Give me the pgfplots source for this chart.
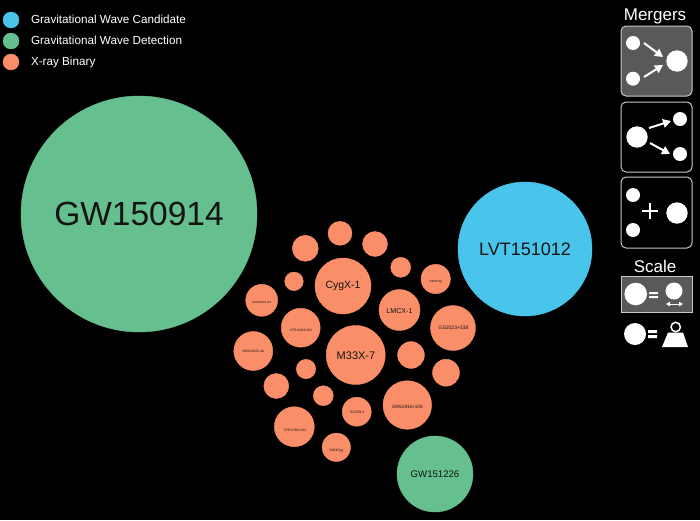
\documentclass[border=0pt]{standalone}
\usepackage{pgfplots}
\pgfplotsset{compat=1.18}
\usepackage{pgfplotstable}
\usepackage{fontspec}
\setmainfont{Liberation Sans}
\usetikzlibrary{arrows.meta}
\definecolor{gwc}{HTML}{49C5EC}
\definecolor{gwd}{HTML}{66BF8E}
\definecolor{xrb}{HTML}{F98E69}
\definecolor{pan}{HTML}{595959}
\definecolor{edge}{HTML}{C8C8C8}
\pgfplotstableread{
x y r
525 249 67
}\candidate
\pgfplotstableread{
x y r
139 214 118
435 474 38
}\detection
\pgfplotstableread{
x y r
343 286 28
399.5 310 20.5
355.7 355 29.5
453 328 22.5
435.7 279 14.7
400.7 267.3 10
411 355 13.4
446 372.7 13.5
407.3 405 24.3
356.7 411.7 14.5
336.3 447.3 14.2
294.3 426.7 20
323.3 395.7 10
276.3 386 12.5
306 369 9.7
253.3 351 19.5
300.7 327.7 19.5
261.7 300.3 16
294 281.3 9.3
305.3 248.3 13
340 233.3 12
375 244 12.5
}\xray
\pgfplotsset{bub/.style={only marks,scatter,mark=*,
  scatter src=explicit,
  scatter/use mapped color={draw=#1,fill=#1},
  visualization depends on={\thisrow{r} \as \bubrad},
  scatter/@pre marker code/.append style={/tikz/mark size=\bubrad pt},
  draw=#1,fill=#1,mark options={draw=#1,fill=#1}}}
\begin{document}
\begin{tikzpicture}
\begin{axis}[width=700pt,height=520pt,scale only axis,
  xmin=0,xmax=700,ymin=0,ymax=520,y dir=reverse,hide axis,clip=false,
  clip marker paths=true,
  legend cell align=left,
  legend image post style={mark size=8pt},
  legend style={at={(axis cs:3,12)},anchor=north west,draw=none,fill=none,
    text=white,font=\fontsize{11.7}{13}\selectfont,row sep=5pt,
    inner sep=0pt,outer sep=0pt,
    nodes={inner xsep=2pt,inner ysep=0pt}}]
\fill[black] (axis cs:0,0) rectangle (axis cs:700,520);
\addplot[bub=gwc] table[x=x,y=y,meta=r] {\candidate};
\addlegendentry{\hspace{10pt}\raisebox{0.6pt}{Gravitational Wave Candidate}}
\addplot[bub=gwd] table[x=x,y=y,meta=r] {\detection};
\addlegendentry{\hspace{10pt}\raisebox{0.6pt}{Gravitational Wave Detection}}
\addplot[bub=xrb] table[x=x,y=y,meta=r] {\xray};
\addlegendentry{\hspace{10pt}\raisebox{0.6pt}{X-ray Binary}}
\tikzset{lab/.style={text=black!92,inner sep=0pt}}
\node[lab,font=\fontsize{33.5}{34}\selectfont] at (axis cs:139,214) {GW150914};
\node[lab,font=\fontsize{18}{20}\selectfont] at (axis cs:525,249) {LVT151012};
\node[lab,font=\fontsize{9.6}{12}\selectfont] at (axis cs:435,474) {GW151226};
\node[lab,font=\fontsize{10.5}{12}\selectfont] at (axis cs:343,286) {CygX-1};
\node[lab,font=\fontsize{7.1}{9}\selectfont] at (axis cs:399.5,311) {LMCX-1};
\node[lab,font=\fontsize{11}{13}\selectfont] at (axis cs:356,356) {M33X-7};
\node[lab,font=\fontsize{5}{6}\selectfont] at (axis cs:453.5,328) {GS2023+338};
\node[lab,font=\fontsize{4.6}{6}\selectfont] at (axis cs:407.3,407) {GRS1915+105};
\node[lab,font=\fontsize{3}{4}\selectfont] at (axis cs:435.7,282) {V4641Sgr};
\node[lab,font=\fontsize{3.6}{4}\selectfont] at (axis cs:357,412) {GX339-4};
\node[lab,font=\fontsize{3.4}{4}\selectfont] at (axis cs:336.3,450.7) {V404Cyg};
\node[lab,font=\fontsize{3.3}{4}\selectfont] at (axis cs:295,430) {XTEJ1550-564};
\node[lab,font=\fontsize{3.3}{4}\selectfont] at (axis cs:253.3,351) {GROJ1655-40};
\node[lab,font=\fontsize{3.3}{4}\selectfont] at (axis cs:301,330.7) {XTEJ1819-254};
\node[lab,font=\fontsize{2.8}{4}\selectfont] at (axis cs:261.7,303) {GROJ0422+32};
% Mergers panel
\tikzset{
 ic/.style={fill=white,draw=none},
 arr/.style={white,line width=2pt,-{Triangle[length=8pt,width=8.5pt]}},
 box/.style={draw=edge,line width=1pt,rounded corners=5pt}}
\node[text=white,font=\fontsize{17}{19}\selectfont] at (axis cs:655,16) {Mergers};
\draw[box,fill=pan] (axis cs:621,26) rectangle (axis cs:692,96);
\fill[ic] (axis cs:633,43) circle[radius=7pt];
\fill[ic] (axis cs:633,78.7) circle[radius=7pt];
\fill[ic] (axis cs:677,61) circle[radius=10.7pt];
\draw[arr] (axis cs:644,43) -- (axis cs:663,57);
\draw[arr] (axis cs:644,77) -- (axis cs:663,65);
\draw[box] (axis cs:621,102) rectangle (axis cs:692,172);
\fill[ic] (axis cs:637,137) circle[radius=10.7pt];
\fill[ic] (axis cs:680,119) circle[radius=7pt];
\fill[ic] (axis cs:680,154) circle[radius=7pt];
\draw[arr] (axis cs:649,128) -- (axis cs:671,121);
\draw[arr] (axis cs:650,143) -- (axis cs:670,154);
\draw[box] (axis cs:621,177) rectangle (axis cs:692,248);
\fill[ic] (axis cs:633,195) circle[radius=7pt];
\fill[ic] (axis cs:633,230) circle[radius=7pt];
\fill[ic] (axis cs:677,213) circle[radius=10.7pt];
\draw[white,line width=2.4pt] (axis cs:642,211) -- (axis cs:658,211) (axis cs:650,203) -- (axis cs:650,219);
% Scale panel
\node[text=white,font=\fontsize{17}{19}\selectfont] at (axis cs:655,266) {Scale};
\fill[pan] (axis cs:621,276.5) rectangle (axis cs:692,312);
\draw[edge,line width=1pt] (axis cs:621,276.5) rectangle (axis cs:692,312);
\fill[ic] (axis cs:635.7,294) circle[radius=11.3pt];
\fill[white] (axis cs:649,292) rectangle (axis cs:658,294) (axis cs:649,296) rectangle (axis cs:658,298);
\fill[ic] (axis cs:674,291) circle[radius=8.5pt];
\draw[white,line width=1pt,{Triangle[length=4pt,width=4.5pt]}-{Triangle[length=4pt,width=4.5pt]}] (axis cs:666,304) -- (axis cs:683,304);
\fill[ic] (axis cs:635,334) circle[radius=11pt];
\fill[white] (axis cs:648,330) rectangle (axis cs:657,333) (axis cs:648,335) rectangle (axis cs:657,338);
\fill[white] (axis cs:662,347) -- (axis cs:688,347) -- (axis cs:683,332.5) -- (axis cs:668,332.5) -- cycle;
\draw[white,line width=1.5pt] (axis cs:675.7,327) circle[radius=4.7pt];
\end{axis}
\end{tikzpicture}
\end{document}
